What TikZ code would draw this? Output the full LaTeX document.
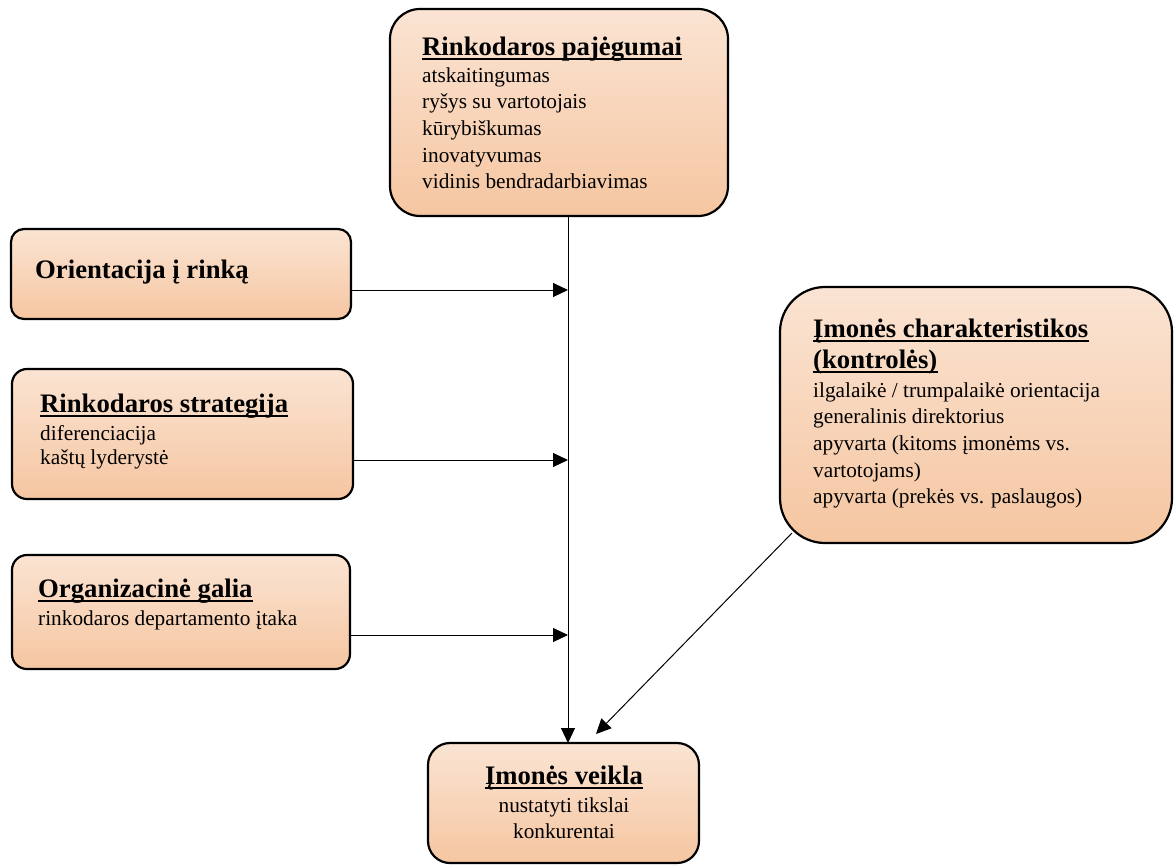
\documentclass[tikz,border=0pt]{standalone}
\usepackage{fontspec}
\setmainfont{Liberation Serif}
\usetikzlibrary{arrows.meta}

% box fill: pale at the top, peach towards the bottom
\definecolor{peach}{RGB}{245,196,158}
\definecolor{peachtop}{RGB}{253,243,236}
\definecolor{peachlow}{RGB}{248,212,188}
\pgfdeclareverticalshading{peachfill}{100bp}{color(0bp)=(peachlow); color(22bp)=(peach); color(100bp)=(peachtop)}

\newcommand{\headfont}{\fontsize{26.7pt}{31pt}\selectfont\bfseries}
\newcommand{\itemfont}{\fontsize{21.3pt}{26.7pt}\selectfont}

\begin{document}
\begin{tikzpicture}[x=1pt,y=-1pt,
  box/.style={draw=black, line width=2.2pt, shading=peachfill, anchor=north west,
              inner sep=0pt, outer sep=0pt},
  heading/.style={anchor=base west, inner sep=0pt, font=\headfont},
  % multi-line lists are placed by the baseline of their last line
  items/.style={anchor=base west, inner sep=0pt, align=left, font=\itemfont},
  uline/.style={line width=1.8pt},
  link/.style={line width=1pt, -{Triangle[length=15pt,width=14pt]}}]
\useasboundingbox (0,0) rectangle (1175,865);

% boxes
\node[box, minimum width=338pt, minimum height=207pt, rounded corners=30pt] (cap) at (390,9) {};
\node[box, minimum width=340pt, minimum height=90pt, rounded corners=13pt] (ori) at (11,229) {};
\node[box, minimum width=341pt, minimum height=130pt, rounded corners=15pt] (str) at (12,369) {};
\node[box, minimum width=338pt, minimum height=114pt, rounded corners=15pt] (org) at (12,555) {};
\node[box, minimum width=392pt, minimum height=256pt, rounded corners=45pt] (ctl) at (780,287) {};
\node[box, minimum width=271pt, minimum height=120pt, rounded corners=22pt] (out) at (428,743) {};

% texts
\node[heading] (capH) at (422,55) {Rinkodaros pajėgumai};
\node[items] (capL) at (422,188.8) {atskaitingumas\\ryšys su vartotojais\\kūrybiškumas\\inovatyvumas\\vidinis bendradarbiavimas};

\node[heading] (oriH) at (35,278) {Orientacija į rinką};

\node[heading] (strH) at (40,412) {Rinkodaros strategija};
\node[items, font=\fontsize{21.3pt}{24.5pt}\selectfont] (strL) at (40,464.5) {diferenciacija\\kaštų lyderystė};

\node[heading] (orgH) at (38,597) {Organizacinė galia};
\node[items] (orgL) at (38,625) {rinkodaros departamento įtaka};

\node[heading] (ctlH) at (813,337) {Įmonės charakteristikos};
\node[heading] (ctlH2) at (813,368) {(kontrolės)};
\node[items] (ctlL) at (813,503.8) {ilgalaikė / trumpalaikė orientacija\\generalinis direktorius\\apyvarta (kitoms įmonėms vs.\\vartotojams)\\apyvarta (prekės vs. paslaugos)};

\node[heading, anchor=base] (outH) at (564,784) {Įmonės veikla};
\node[items, anchor=base, align=center] (outL) at (564,838.7) {nustatyti tikslai\\konkurentai};

% heading underlines
\foreach \h in {capH,strH,orgH,ctlH,ctlH2,outH}
  \draw[uline] ([yshift=-4pt]\h.base west) -- ([yshift=-4pt]\h.base east);

% connectors
\coordinate (j1) at (568,290);
\coordinate (j2) at (568,460);
\coordinate (j3) at (568,635);
\coordinate (dstart) at (792,533);
\coordinate (tip) at (596,734);
\draw[link] (cap.south -| j1) -- (out.north -| j1);
\draw[link] (ori.east |- j1) -- (j1);
\draw[link] (str.east |- j2) -- (j2);
\draw[link] (org.east |- j3) -- (j3);
\draw[link] (dstart) -- (tip);
\end{tikzpicture}
\end{document}
